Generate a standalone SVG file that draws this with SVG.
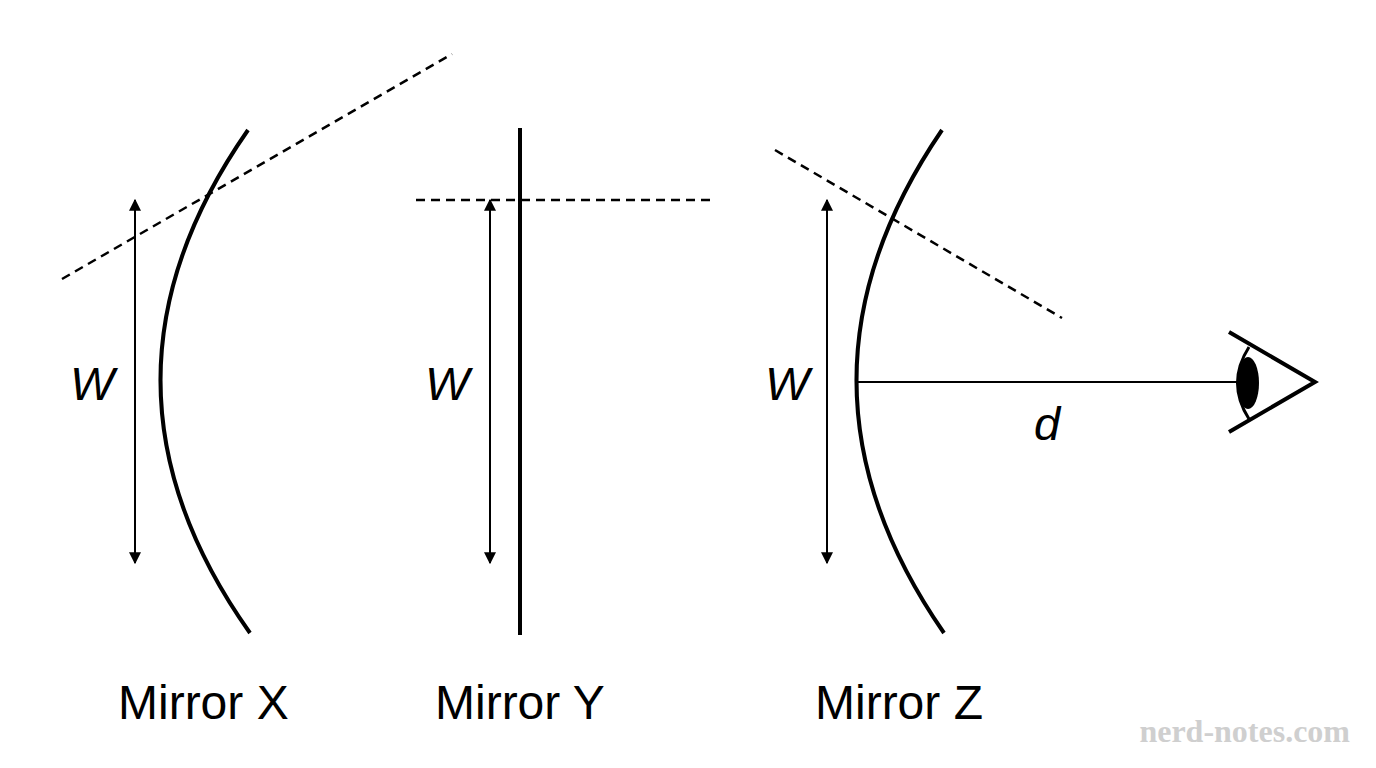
<svg xmlns="http://www.w3.org/2000/svg" width="1376" height="768" viewBox="0 0 1376 768">
<style>
.m{fill:none;stroke:#000;stroke-width:4}
.d{fill:none;stroke:#000;stroke-width:2.5;stroke-dasharray:9,6}
.a{fill:none;stroke:#000;stroke-width:2;marker-start:url(#ah);marker-end:url(#ah)}
.t{font-family:"Liberation Sans",Arial,sans-serif;font-size:48px;fill:#000}
.w{font-family:"Liberation Sans",Arial,sans-serif;font-size:47px;font-style:italic;fill:#000}
</style>
<defs><marker id="ah" viewBox="0 0 10 10" refX="9" refY="5" markerWidth="6" markerHeight="6" orient="auto-start-reverse"><path d="M0,0L10,5L0,10z" fill="#000"/></marker></defs>
<rect width="1376" height="768" fill="#fff"/>
<g id="mirrorX">
<path class="m" d="M248,130 Q72,382 250,633"/>
<text class="t" x="118" y="719">Mirror X</text>
<text class="w" x="70" y="400">W</text>
</g>
<g id="mirrorY">
<line class="m" x1="520" y1="128" x2="520" y2="635"/>
<text class="t" x="435" y="719">Mirror Y</text>
<text class="w" x="425" y="400">W</text>
</g>
<g id="mirrorZ">
<path class="m" d="M942,130 Q770,382 944,633"/>
<text class="t" x="815" y="719">Mirror Z</text>
<text class="w" x="765" y="400">W</text>
<text class="w" x="1034" y="440">d</text>
</g>
<g id="eye">
<path d="M1229,332 L1315,382 L1229,432" fill="none" stroke="#000" stroke-width="4"/>
<path d="M1249,347 Q1226,383 1249,419" fill="none" stroke="#000" stroke-width="3"/>
<ellipse cx="1248" cy="383" rx="11" ry="26" fill="#000"/>
</g>
<g id="connectors">
<line class="d" x1="62" y1="279" x2="452" y2="54"/>
<line class="d" x1="416" y1="200" x2="713" y2="200"/>
<line class="d" x1="775" y1="150" x2="1062" y2="318"/>
<line class="a" x1="135" y1="200" x2="135" y2="563"/>
<line class="a" x1="490" y1="200" x2="490" y2="563"/>
<line class="a" x1="827" y1="200" x2="827" y2="563"/>
<line x1="856" y1="382" x2="1238" y2="382" stroke="#000" stroke-width="2"/>
</g>
<text x="1350" y="742" text-anchor="end" font-family="Liberation Serif,serif" font-size="32" fill="#cfcfcf" font-weight="bold">nerd-notes.com</text>
</svg>
